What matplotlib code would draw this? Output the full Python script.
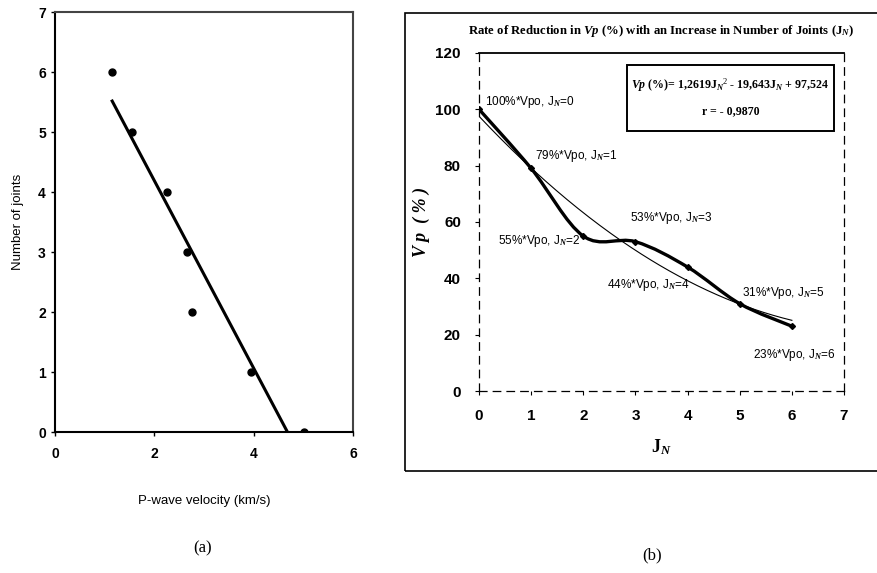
import matplotlib
matplotlib.use('Agg')
import matplotlib.pyplot as plt
from matplotlib.path import Path
from matplotlib.patches import PathPatch, Rectangle
import numpy as np

# panel (a) data
velocity = [1.15, 1.55, 2.25, 2.65, 2.75, 3.95, 5.0]
joints = [6, 5, 4, 3, 2, 1, 0]
a_xticks = [0, 2, 4, 6]
a_yticks = [0, 1, 2, 3, 4, 5, 6, 7]

# panel (b) data
jn = [0, 1, 2, 3, 4, 5, 6]
vp_pct = [100, 79, 55, 53, 44, 31, 23]
b_xticks = [0, 1, 2, 3, 4, 5, 6, 7]
b_yticks = [0, 20, 40, 60, 80, 100, 120]
labels = ['100%*Vpo, J$_N$=0', '79%*Vpo, J$_N$=1', '55%*Vpo, J$_N$=2',
          '53%*Vpo, J$_N$=3', '44%*Vpo, J$_N$=4', '31%*Vpo, J$_N$=5',
          '23%*Vpo, J$_N$=6']
label_pos = [(0.12, 102.5), (1.07, 83.5), (0.36, 53.3), (2.9, 61.5),
             (2.45, 37.5), (5.05, 34.8), (5.26, 12.8)]

sans = ['Liberation Sans', 'DejaVu Sans']
serif_b = ['Liberation Serif', 'DejaVu Serif']
plt.rcParams['font.family'] = sans
plt.rcParams['mathtext.fontset'] = 'custom'
plt.rcParams['mathtext.rm'] = 'Liberation Serif'
plt.rcParams['mathtext.bf'] = 'Liberation Serif:bold'
plt.rcParams['mathtext.it'] = 'Liberation Serif:italic:bold'

fig = plt.figure(figsize=(8.78, 5.73), dpi=100)

# ---------------- (a) ----------------
ax1 = fig.add_axes([0.0626, 0.246, 0.340, 0.733])
ax1.plot(velocity, joints, 'o', color='black', ms=5)
slope, icpt = np.polyfit(velocity, joints, 1)
x_end = -icpt / slope
xs = np.array([min(velocity), x_end])
ax1.plot(xs, slope * xs + icpt, color='black', lw=2.2)
ax1.set_xlim(0, 6)
ax1.set_ylim(0, 7)
ax1.set_xticks(a_xticks)
ax1.set_yticks(a_yticks)
ax1.tick_params(direction='out', length=3, width=1, labelsize=10)
ax1.tick_params(axis='x', pad=8)
for t in ax1.get_xticklabels() + ax1.get_yticklabels():
    t.set_fontweight('bold')
for s in ax1.spines.values():
    s.set_linewidth(1.5)
ax1.spines['top'].set_color('#444444')
ax1.spines['right'].set_color('#444444')
ax1.set_xlabel('P-wave velocity (km/s)', fontsize=9.5, labelpad=24)
ax1.set_ylabel('Number of joints', fontsize=9.5, labelpad=10)
fig.text(0.231, 0.043, '(a)', ha='center', va='center', fontsize=12,
         family=serif_b)

# ---------------- (b) ----------------
fig.add_artist(Rectangle((0.461, 0.178), 0.6, 0.799, transform=fig.transFigure,
                         fill=False, ec='black', lw=1.2))

ax2 = fig.add_axes([0.5456, 0.3176, 0.4157, 0.590])
ax2.set_xlim(0, 7)
ax2.set_ylim(0, 120)

# smooth line through the measured points (Catmull-Rom bezier)
pts = np.column_stack([jn, vp_pct]).astype(float)
verts = [pts[0]]
codes = [Path.MOVETO]
for i in range(len(pts) - 1):
    p0 = pts[i - 1] if i > 0 else pts[i]
    p1 = pts[i]
    p2 = pts[i + 1]
    p3 = pts[i + 2] if i + 2 < len(pts) else pts[i + 1]
    verts += [p1 + (p2 - p0) / 6, p2 - (p3 - p1) / 6, p2]
    codes += [Path.CURVE4] * 3
ax2.add_patch(PathPatch(Path(verts, codes), fill=False, ec='black', lw=2.4))
ax2.plot(jn, vp_pct, 'D', color='black', ms=3)

# quadratic trend line
coef = np.polyfit(jn, vp_pct, 2)
xf = np.linspace(0, 6, 200)
ax2.plot(xf, np.polyval(coef, xf), color='black', lw=0.8)

for lab, (x, y) in zip(labels, label_pos):
    ax2.text(x, y, lab, fontsize=8.5, family=sans, ha='left', va='center')

# equation box
ax2.add_patch(Rectangle((2.84, 92.3), 3.97, 23.4, fill=False, ec='black',
                        lw=1.4, clip_on=False))
ax2.text(4.82, 108.5, '$\\mathit{Vp}$ (%)= 1,2619J$_N$$^2$ - 19,643J$_N$ + 97,524',
         fontsize=8.6, family=serif_b, fontweight='bold', ha='center',
         va='center')
ax2.text(4.82, 99.5, 'r = - 0,9870', fontsize=8.6, family=serif_b,
         fontweight='bold', ha='center', va='center')

ax2.set_xticks(b_xticks)
ax2.set_yticks(b_yticks)
ax2.tick_params(direction='out', length=3, width=0.8, labelsize=11, pad=10)
for t in ax2.get_xticklabels() + ax2.get_yticklabels():
    t.set_fontweight('bold')
ax2.spines['top'].set_linewidth(1.3)
for side in ['left', 'right', 'bottom']:
    ax2.spines[side].set_linestyle((0, (6, 5)))
    ax2.spines[side].set_linewidth(0.9)

ax2.set_title('Rate of Reduction in $\\mathit{Vp}$ (%) with an Increase in Number of Joints (J$_N$)',
              fontsize=9.2, family=serif_b, fontweight='bold', pad=14)
ax2.set_xlabel('J$_N$', fontsize=13, family=serif_b, fontweight='bold', labelpad=10)
ax2.set_ylabel('V p  ( % )', fontsize=13, family=serif_b, style='italic',
               fontweight='bold', labelpad=4)
fig.text(0.743, 0.031, '(b)', ha='center', va='center', fontsize=12,
         family=serif_b)

fig.savefig('out.png', dpi=100)
